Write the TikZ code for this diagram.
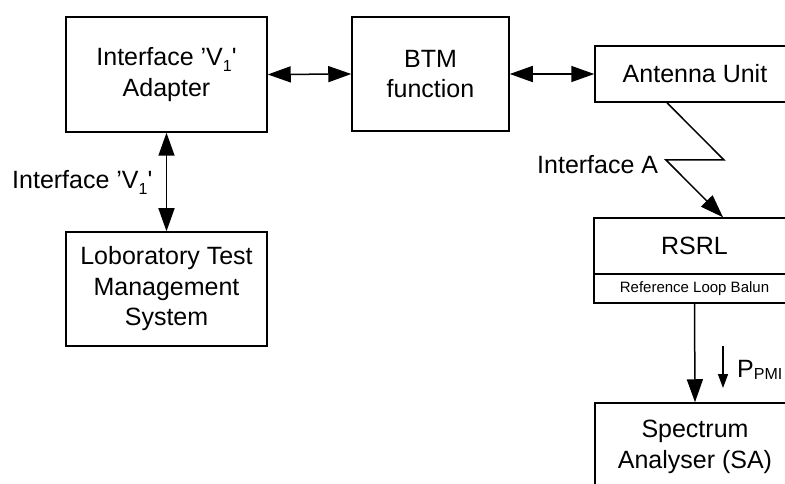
\documentclass[tikz,border=0pt]{standalone}
\usepackage{fontspec}
\setmainfont{Liberation Sans}
\usetikzlibrary{arrows.meta,calc}
\newcommand\mysub[1]{\raisebox{-0.22em}{\fontsize{16}{16}\selectfont #1}}
\tikzset{
  box/.style={draw, line width=1.5pt, inner sep=0pt, align=center,
    font=\fontsize{25}{30.5}\selectfont},
  lbl/.style={inner sep=0pt, font=\fontsize{25}{30.5}\selectfont},
  conn/.style={line width=1.5pt},
  bigtip/.style={-{Triangle[length=23pt,width=16pt]}},
  bothtip/.style={{Triangle[length=23pt,width=16pt]}-{Triangle[length=23pt,width=16pt]}},
  smalltip/.style={-{Triangle[length=14pt,width=10pt]}}
}
\begin{document}
\begin{tikzpicture}[x=1pt,y=-1pt]
\useasboundingbox (0,0) rectangle (785,484);
\clip (0,0) rectangle (785,484);
% boxes
\node[box, minimum width=201pt, minimum height=115pt] (adapter) at (166.5,74.5)
  {Interface ’V\mysub{1}\textquotesingle\\Adapter};
\node[box, minimum width=157pt, minimum height=114pt] (btm) at (430.5,74)
  {BTM\\function};
\node[box, minimum width=200pt, minimum height=56pt] (ant) at (695,74)
  {Antenna Unit};
\node[box, minimum width=201pt, minimum height=114pt] (lab) at (166.5,289)
  {Loboratory Test\\Management\\System};
\node[box, minimum width=201pt, minimum height=85pt] (rsrl) at (694.5,260.5) {};
\node[lbl] (rsrlt) at (694.5,246) {RSRL};
\node[lbl, font=\fontsize{15}{18}\selectfont] (rlb) at (694.5,288.5) {Reference Loop Balun};
\draw[line width=1.5pt] (rsrl.west |- 0,274) -- (rsrl.east |- 0,274);
\node[draw, line width=1.5pt, minimum width=200pt, minimum height=115pt] (sa) at (695,460.5) {};
\node[lbl, align=center] (sat) at (695,447) {Spectrum\\Analyser (SA)};
% connectors
\draw[conn, bothtip] (adapter.east) -- (btm.west);
\draw[conn, bothtip] (btm.east) -- (ant.west);
\draw[conn, bothtip] (adapter.south) -- (lab.north);
\coordinate (z1) at (724,160);
\coordinate (z2) at (666,160);
\draw[conn, bigtip] ([xshift=-28pt]ant.south) -- (z1) -- (z2) -- ([xshift=28.5pt]rsrl.north);
\draw[conn, bigtip] (rsrl.south) -- (sa.north);
\coordinate (p1) at (723,346);
\coordinate (p2) at (723,388);
\draw[conn, smalltip] (p1) -- (p2);
% labels
\node[lbl, anchor=base west] (lv1) at (12,189) {Interface ’V\mysub{1}\textquotesingle};
\node[lbl, anchor=base west] (la) at (537,174) {Interface A};
\node[lbl, anchor=base west] (lp) at (737,377) {P\raisebox{-0.08em}{\fontsize{16}{16}\selectfont PMI}};
\end{tikzpicture}
\end{document}
